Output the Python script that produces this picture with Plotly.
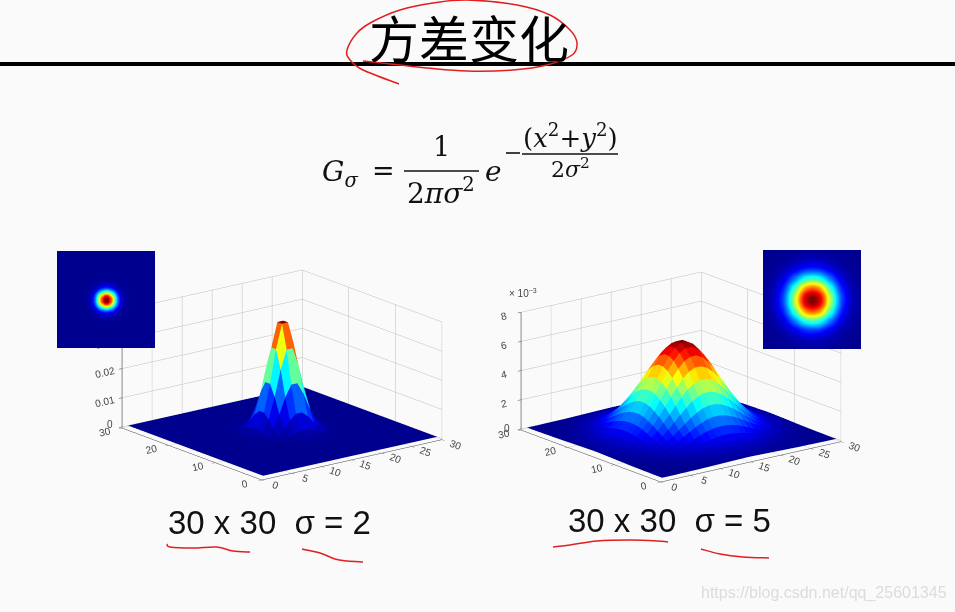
import numpy as np
import plotly.graph_objects as go

WIDTH, HEIGHT = 955, 612
BG = "#fafafa"

grid_pos = list(range(1, 31))
x_ticks = [0, 5, 10, 15, 20, 25, 30]
y_ticks = [0, 10, 20, 30]
z_ticks_left = [0, 0.01, 0.02, 0.03, 0.04]
z_ticks_right = [0, 2, 4, 6, 8]

# matlab style jet
jet_colors = [[0, "rgb(0,0,143)"], [0.125, "rgb(0,0,255)"], [0.375, "rgb(0,255,255)"],
              [0.625, "rgb(255,255,0)"], [0.875, "rgb(255,0,0)"], [1, "rgb(128,0,0)"]]

# one quadrant of each surface, center first (units of 1e-3)
sigma2_quadrant = [
    [37.4, 29.1, 17.7, 8.3, 3.1, 0.9, 0.2, 0, 0, 0, 0, 0, 0, 0, 0],
    [29.1, 22.7, 13.8, 6.5, 2.4, 0.7, 0.2, 0, 0, 0, 0, 0, 0, 0, 0],
    [17.7, 13.8, 8.4, 3.9, 1.5, 0.4, 0.1, 0, 0, 0, 0, 0, 0, 0, 0],
    [8.3, 6.5, 3.9, 1.9, 0.7, 0.2, 0, 0, 0, 0, 0, 0, 0, 0, 0],
    [3.1, 2.4, 1.5, 0.7, 0.3, 0.1, 0, 0, 0, 0, 0, 0, 0, 0, 0],
    [0.9, 0.7, 0.4, 0.2, 0.1, 0, 0, 0, 0, 0, 0, 0, 0, 0, 0],
    [0.2, 0.2, 0.1, 0, 0, 0, 0, 0, 0, 0, 0, 0, 0, 0, 0],
    [0] * 15, [0] * 15, [0] * 15, [0] * 15, [0] * 15, [0] * 15, [0] * 15, [0] * 15,
]
sigma5_quadrant = [
    [6.30, 6.06, 5.59, 4.96, 4.22, 3.46, 2.72, 2.06, 1.49, 1.04, .70, .45, .28, .16, .10],
    [6.06, 5.82, 5.37, 4.77, 4.06, 3.32, 2.62, 1.98, 1.44, 1.00, .67, .43, .27, .16, .09],
    [5.59, 5.37, 4.95, 4.40, 3.75, 3.07, 2.41, 1.82, 1.33, .92, .62, .40, .25, .15, .08],
    [4.96, 4.77, 4.40, 3.90, 3.32, 2.72, 2.14, 1.62, 1.18, .82, .55, .35, .22, .13, .07],
    [4.22, 4.06, 3.75, 3.32, 2.83, 2.32, 1.83, 1.38, 1.00, .70, .47, .30, .19, .11, .06],
    [3.46, 3.32, 3.07, 2.72, 2.32, 1.90, 1.49, 1.13, .82, .57, .38, .25, .15, .09, .05],
    [2.72, 2.62, 2.41, 2.14, 1.83, 1.49, 1.18, .89, .65, .45, .30, .19, .12, .07, .04],
    [2.06, 1.98, 1.82, 1.62, 1.38, 1.13, .89, .67, .49, .34, .23, .15, .09, .05, .03],
    [1.49, 1.44, 1.33, 1.18, 1.00, .82, .65, .49, .35, .25, .17, .11, .07, .04, .02],
    [1.04, 1.00, .92, .82, .70, .57, .45, .34, .25, .17, .11, .07, .05, .03, .02],
    [.70, .67, .62, .55, .47, .38, .30, .23, .17, .11, .08, .05, .03, .02, .01],
    [.45, .43, .40, .35, .30, .25, .19, .15, .11, .07, .05, .03, .02, .01, .01],
    [.28, .27, .25, .22, .19, .15, .12, .09, .07, .05, .03, .02, .01, .01, 0],
    [.16, .16, .15, .13, .11, .09, .07, .05, .04, .03, .02, .01, .01, 0, 0],
    [.10, .09, .08, .07, .06, .05, .04, .03, .02, .02, .01, .01, 0, 0, 0],
]


def px(x):
    return x / WIDTH


def py(y):
    return 1 - y / HEIGHT


def full_grid(quadrant):
    # the surfaces are symmetric, so the other three quadrants are mirrors
    q = np.array(quadrant, dtype=float)
    top = np.hstack([np.fliplr(q), q])
    return np.vstack([np.flipud(top), top])


def surface_mesh(z, scene):
    # flat coloured facets like matlab surf, colour taken from each facet's first corner
    n = len(grid_pos)
    xs, ys = np.meshgrid(grid_pos, grid_pos)
    idx = np.arange(n * n).reshape(n, n)
    a = idx[:-1, :-1].ravel()
    b = idx[:-1, 1:].ravel()
    c = idx[1:, 1:].ravel()
    d = idx[1:, :-1].ravel()
    colors = z[:-1, :-1].ravel()
    return go.Mesh3d(
        x=xs.ravel(), y=ys.ravel(), z=z.ravel(),
        i=np.concatenate([a, a]), j=np.concatenate([b, c]), k=np.concatenate([c, d]),
        intensity=np.concatenate([colors, colors]), intensitymode="cell",
        colorscale=jet_colors, cmin=0, cmax=z.max(), showscale=False,
        flatshading=True, hoverinfo="skip", scene=scene,
        lighting=dict(ambient=1, diffuse=0, specular=0, fresnel=0, roughness=1),
    )


def scene_axes(z_range, z_ticks, z_text, domain_x, domain_y):
    base = dict(
        showbackground=False, showgrid=True, gridcolor="#bdbdbd", gridwidth=1,
        zeroline=False, showspikes=False, title=dict(text=""),
        tickfont=dict(family="Liberation Sans", size=11, color="#444444"),
        ticks="outside", ticklen=4, tickcolor="#444444",
        showline=True, linecolor="#444444", linewidth=1,
    )
    return dict(
        domain=dict(x=domain_x, y=domain_y),
        xaxis=dict(base, range=[0, 30], tickvals=x_ticks),
        yaxis=dict(base, range=[0, 30], tickvals=y_ticks),
        zaxis=dict(base, range=z_range, tickvals=z_ticks, ticktext=z_text, linewidth=2,
                   linecolor="#777777"),
        aspectmode="manual", aspectratio=dict(x=1.52, y=1.52, z=0.82),
        camera=dict(
            projection=dict(type="orthographic"),
            eye=dict(x=-1.14, y=-1.47, z=0.56),
            center=dict(x=0, y=0, z=0),
        ),
    )


def stroke(points, color="#e02020", width=1.5):
    # hand drawn pen stroke, catmull-rom through the points
    pts = [(px(x), py(y)) for x, y in points]
    path = f"M {pts[0][0]:.4f},{pts[0][1]:.4f}"
    for n in range(len(pts) - 1):
        p0 = pts[max(n - 1, 0)]
        p1 = pts[n]
        p2 = pts[n + 1]
        p3 = pts[min(n + 2, len(pts) - 1)]
        c1 = (p1[0] + (p2[0] - p0[0]) / 6, p1[1] + (p2[1] - p0[1]) / 6)
        c2 = (p2[0] - (p3[0] - p1[0]) / 6, p2[1] - (p3[1] - p1[1]) / 6)
        path += f" C {c1[0]:.4f},{c1[1]:.4f} {c2[0]:.4f},{c2[1]:.4f} {p2[0]:.4f},{p2[1]:.4f}"
    return dict(type="path", path=path, xref="paper", yref="paper",
                line=dict(color=color, width=width))


def rule(x0, x1, y, width=1.6, color="#111111"):
    return dict(type="line", xref="paper", yref="paper", x0=px(x0), x1=px(x1),
                y0=py(y), y1=py(y), line=dict(color=color, width=width))


def label(text, x, y, size, family="DejaVu Serif", color="#111111", anchor="center"):
    return dict(text=text, x=px(x), y=py(y), xref="paper", yref="paper", showarrow=False,
                xanchor=anchor, yanchor="middle", font=dict(family=family, size=size, color=color))


sigma2 = full_grid(sigma2_quadrant)
sigma5 = full_grid(sigma5_quadrant)

fig = go.Figure()
fig.add_trace(surface_mesh(sigma2 / 1000, "scene"))
fig.add_trace(surface_mesh(sigma5, "scene2"))
fig.add_trace(go.Heatmap(z=sigma2, colorscale=jet_colors, showscale=False, xaxis="x", yaxis="y",
                         zsmooth="best", hoverinfo="skip"))
fig.add_trace(go.Heatmap(z=sigma5, colorscale=jet_colors, showscale=False, xaxis="x2", yaxis="y2",
                         zsmooth="best", hoverinfo="skip"))

title_ring = [(399, 84), (363, 70), (350, 60), (347, 50), (357, 33), (372, 22), (400, 10), (433, 3),
              (467, 0), (517, 5), (550, 15), (570, 30), (577, 43), (572, 55), (547, 65), (513, 70),
              (467, 71), (427, 68), (400, 65), (363, 61)]
under_left_a = [(167, 544), (170, 547), (193, 548), (217, 547), (233, 551), (250, 552)]
under_left_b = [(302, 549), (320, 553), (335, 559), (347, 561), (363, 562)]
under_right_a = [(553, 547), (570, 545), (597, 541), (630, 540), (657, 541), (668, 542)]
under_right_b = [(701, 549), (720, 554), (743, 557), (769, 558)]

fig.update_layout(
    width=WIDTH, height=HEIGHT, margin=dict(l=0, r=0, t=0, b=0),
    paper_bgcolor="rgba(0,0,0,0)", plot_bgcolor="rgba(0,0,0,0)", showlegend=False,
    # the z "0" labels collide with the y "30" labels in webgl, so they are placed as annotations
    scene=scene_axes([-0.0004, 0.04], z_ticks_left, ["", "0.01", "0.02", "0.03", "0.04"],
                     [px(72), px(492)], [py(525), py(225)]),
    scene2=scene_axes([-0.08, 8], z_ticks_right, ["", "2", "4", "6", "8"],
                      [px(471), px(891)], [py(527), py(227)]),
    xaxis=dict(domain=[px(57), px(155)], visible=False),
    yaxis=dict(domain=[py(348), py(251)], visible=False),
    xaxis2=dict(domain=[px(763), px(861)], visible=False),
    yaxis2=dict(domain=[py(349), py(250)], visible=False),
    shapes=[
        rule(0, 955, 64, width=4, color="#000000"),
        rule(404, 479, 171),
        rule(522, 618, 154),
        rule(506, 520, 153),
        stroke(title_ring), stroke(under_left_a), stroke(under_left_b),
        stroke(under_right_a), stroke(under_right_b),
    ],
    annotations=[
        label("方差变化", 469, 36, 50, family="Noto Sans CJK SC", color="#000000"),
        label("<i>G<sub>σ</sub></i>", 340, 173, 28),
        label("=", 383, 170, 27),
        label("1", 441, 146, 27),
        label("2<i>πσ</i><sup>2</sup>", 441, 191, 28),
        label("<i>e</i>", 493, 171, 28),
        label("(<i>x</i><sup>2</sup>+<i>y</i><sup>2</sup>)", 570, 136, 26),
        label("2<i>σ</i><sup>2</sup>", 570, 168, 22),
        label("30 x 30\u00a0\u00a0σ = 2", 269, 522, 33, family="Liberation Sans"),
        label("30 x 30\u00a0\u00a0σ = 5", 669, 520, 33, family="Liberation Sans"),
        label("× 10<sup>−3</sup>", 523, 293, 10, family="Liberation Sans", color="#444444"),
        label("0", 110, 424, 10, family="Liberation Sans", color="#444444"),
        label("0", 507, 429, 10, family="Liberation Sans", color="#444444"),
        label("https://blog.csdn.net/qq_25601345", 824, 593, 16, family="Liberation Sans",
              color="#dcdcdc"),
    ],
)

# page has no margin; keep insets and pen strokes above the webgl scenes
post = """
document.body.style.margin = '0';
document.body.style.background = '%s';
var svgs = document.querySelectorAll('.main-svg');
svgs[0].style.zIndex = 1;
svgs[1].style.zIndex = 2;
""" % BG

fig.write_html("out.html", post_script=post, config=dict(displayModeBar=False))
